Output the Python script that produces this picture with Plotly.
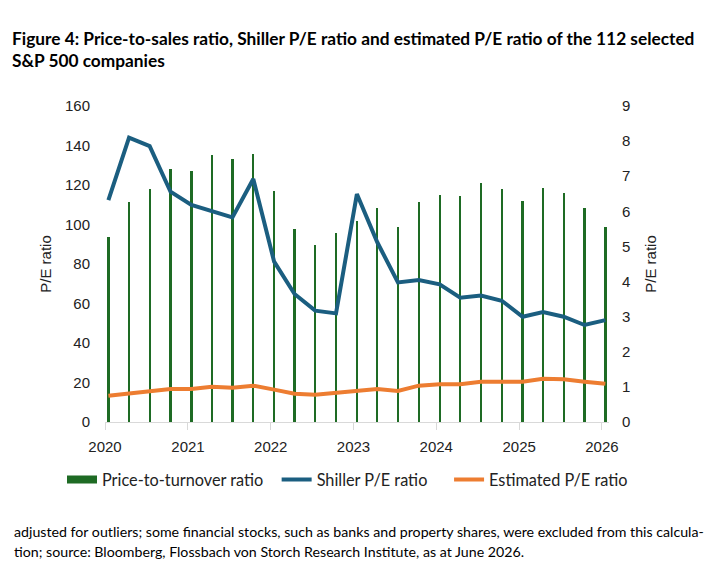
import plotly.graph_objects as go

dates = [f"{y}-{m:02d}-16" for y in range(2020, 2026) for m in (1, 4, 7, 10)] + ["2026-01-16"]

price_to_turnover = [5.27, 6.27, 6.64, 7.20, 7.15, 7.60, 7.49, 7.64, 6.58, 5.50, 5.04, 5.38, 5.73,
                     6.10, 5.55, 6.27, 6.46, 6.43, 6.81, 6.64, 6.29, 6.67, 6.52, 6.10, 5.55]
shiller_pe = [112.4, 144.0, 139.7, 116.6, 109.9, 106.5, 103.6, 123.0, 81.2, 64.8, 56.4, 55.0, 115.4,
              91.0, 70.7, 71.9, 69.7, 62.9, 64.0, 61.4, 53.3, 55.7, 53.3, 49.1, 51.6]
estimated_pe = [13.3, 14.3, 15.3, 16.7, 16.7, 17.9, 17.4, 18.4, 16.4, 14.3, 13.8, 14.8, 15.3,
                16.7, 15.7, 18.4, 19.1, 19.1, 20.4, 20.4, 20.4, 21.9, 21.6, 20.4, 19.4]
year_ticks = ["2020-01-01", "2021-01-01", "2022-01-01", "2023-01-01", "2024-01-01", "2025-01-01", "2026-01-01"]
year_labels = ["2020", "2021", "2022", "2023", "2024", "2025", "2026"]

title_text = ("Figure 4: Price-to-sales ratio, Shiller P/E ratio and estimated P/E ratio of the 112 selected"
              "<br>S&P 500 companies")
foot1 = ("adjusted for outliers; some financial stocks, such as banks and property shares, were excluded from this calcula-")
foot2 = "tion; source: Bloomberg, Flossbach von Storch Research Institute, as at June 2026."

GREEN = "#1E6B24"
BLUE = "#1B5E80"
ORANGE = "#ED7D31"
TICKFONT = dict(family="Liberation Sans, Arial, sans-serif", size=15, color="#222")
NB = "\u00a0"

fig = go.Figure()
fig.add_trace(go.Bar(x=dates, y=price_to_turnover, name="Price-to-turnover ratio", showlegend=False,
                     marker=dict(color=GREEN, line=dict(width=0)), width=10 * 86400000, yaxis="y"))
# legend proxy for the bar series (wide flat box like the reference)
fig.add_trace(go.Scatter(x=[None], y=[None], name="Price-to-turnover ratio" + NB * 2, mode="lines",
                         line=dict(color=GREEN, width=8), yaxis="y"))
fig.add_trace(go.Scatter(x=dates, y=shiller_pe, name="Shiller P/E ratio" + NB * 4, mode="lines",
                         line=dict(color=BLUE, width=4), yaxis="y2"))
fig.add_trace(go.Scatter(x=dates, y=estimated_pe, name="Estimated P/E ratio", mode="lines",
                         line=dict(color=ORANGE, width=4), yaxis="y2"))

fig.update_layout(
    width=709, height=585,
    margin=dict(l=105, r=100, t=106, b=163, autoexpand=False),
    paper_bgcolor="white", plot_bgcolor="white",
    title=dict(text=title_text, x=12 / 709, xanchor="left", y=1 - 45 / 585, yanchor="top",
               font=dict(family="Lato, sans-serif", size=17.3, color="black", weight="bold")),
    xaxis=dict(type="date", range=["2020-01-01", "2026-02-01"], tickvals=year_ticks, ticktext=year_labels,
               showgrid=False, showline=True, linecolor="#D9D9D9", linewidth=1,
               ticks="outside", ticklen=7, tickcolor="#D9D9D9", tickfont=TICKFONT, zeroline=False,
               ticklabelstandoff=4),
    yaxis=dict(side="right", range=[0, 9], dtick=1, showgrid=False, zeroline=False, showline=False,
               tickfont=TICKFONT, ticklabelstandoff=12,
               title=dict(text="P/E ratio", font=TICKFONT, standoff=16)),
    yaxis2=dict(overlaying="y", side="left", range=[0, 160], dtick=20, showgrid=False, zeroline=False,
                showline=False, tickfont=TICKFONT, ticklabelstandoff=14,
                title=dict(text="P/E ratio", font=TICKFONT, standoff=9)),
    showlegend=True,
    legend=dict(orientation="h", x=(62 - 105) / 504, xanchor="left",
                y=(422 - 480) / 316, yanchor="middle",
                font=dict(family="Lato, sans-serif", size=16.3, color="#222"),
                traceorder="normal", itemwidth=30),
    bargap=0,
)

fig.add_annotation(text=foot1, xref="paper", yref="paper", x=(12 - 105) / 504, y=(422 - 531) / 316,
                   xanchor="left", yanchor="middle", showarrow=False,
                   font=dict(family="Lato, sans-serif", size=14.2, color="black"))
fig.add_annotation(text=foot2, xref="paper", yref="paper", x=(12 - 105) / 504, y=(422 - 551) / 316,
                   xanchor="left", yanchor="middle", showarrow=False,
                   font=dict(family="Lato, sans-serif", size=14.2, color="black"))

fig.write_html("out.html")
